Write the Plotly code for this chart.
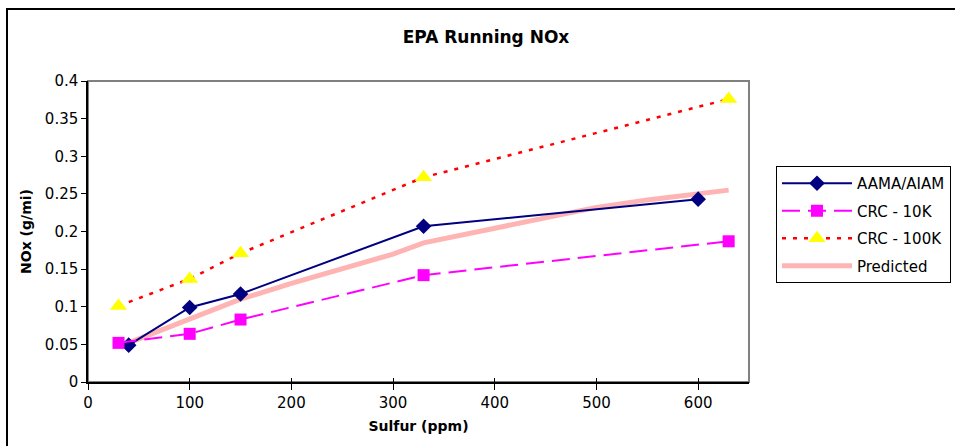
import plotly.graph_objects as go

# ---- data ----
aama_x = [40, 100, 150, 330, 600]
aama_y = [0.049, 0.099, 0.117, 0.207, 0.243]

crc10_x = [30, 100, 150, 330, 630]
crc10_y = [0.052, 0.064, 0.083, 0.142, 0.187]

crc100_x = [30, 100, 150, 330, 630]
crc100_y = [0.101, 0.137, 0.171, 0.272, 0.376]

pred_x = [40, 100, 150, 200, 250, 300, 330, 400, 450, 500, 550, 600, 630]
pred_y = [0.052, 0.084, 0.110, 0.131, 0.150, 0.170, 0.185, 0.205, 0.218, 0.232, 0.242, 0.250, 0.255]

W, H = 955, 446
L, R, T, B = 88, 749, 81, 382

FONT = "DejaVu Sans"

fig = go.Figure()

fig.add_trace(go.Scatter(
    x=pred_x, y=pred_y, name="Predicted", mode="lines", legendgroup="d",
    line=dict(color="#FFB4B4", width=5), legendrank=4))
fig.add_trace(go.Scatter(
    x=aama_x, y=aama_y, name="AAMA/AIAM", mode="lines+markers", legendgroup="a",
    line=dict(color="#000080", width=2),
    marker=dict(symbol="diamond", size=12, color="#000080"), legendrank=1))
fig.add_trace(go.Scatter(
    x=crc10_x, y=crc10_y, name="CRC - 10K", mode="lines+markers", legendgroup="b",
    line=dict(color="#FF00FF", width=2, dash="18px,8px"),
    marker=dict(symbol="square", size=12, color="#FF00FF"), legendrank=2))
fig.add_trace(go.Scatter(
    x=crc100_x, y=crc100_y, name="CRC - 100K", mode="lines+markers", legendgroup="c",
    line=dict(color="#FF0000", width=2.5, dash="4px,7px"),
    marker=dict(symbol="triangle-up", size=15, color="#FFFF00"), legendrank=3))

# invisible helper trace on overlay axis so inside ticks render
fig.add_trace(go.Scatter(x=[0], y=[0], xaxis="x2", mode="markers",
                         marker=dict(opacity=0), showlegend=False, hoverinfo="skip"))

pw = R - L
ph = B - T

fig.update_layout(
    width=W, height=H,
    margin=dict(l=L, r=W - R, t=T, b=H - B, autoexpand=False),
    paper_bgcolor="white", plot_bgcolor="white",
    font=dict(family=FONT, size=15, color="black"),
    title=dict(text="<b>EPA Running NOx</b>", x=486 / W, xref="container", xanchor="center",
               y=1 - 37 / H, yref="container", yanchor="middle",
               font=dict(family=FONT, size=17, color="black")),
    xaxis=dict(range=[0, 650], dtick=100, tick0=0, showgrid=False, zeroline=False,
               showline=True, linecolor="black", linewidth=1.5,
               ticks="outside", ticklen=6, tickwidth=1, tickcolor="black",
               tickfont=dict(size=15),
               title=dict(text="<b>Sulfur (ppm)</b>", font=dict(size=14), standoff=10)),
    xaxis2=dict(range=[0, 650], dtick=100, tick0=0, overlaying="x", side="bottom",
                showgrid=False, zeroline=False, showline=False, showticklabels=False,
                ticks="inside", ticklen=4, tickwidth=1, tickcolor="black"),
    yaxis=dict(range=[0, 0.4], dtick=0.05, tick0=0, showgrid=False, zeroline=False,
               showline=True, linecolor="black", linewidth=1.5,
               ticks="outside", ticklen=5, tickwidth=1, tickcolor="black",
               tickfont=dict(size=15),
               title=dict(text="<b>NOx (g/mi)</b>", font=dict(size=14), standoff=10)),
    legend=dict(x=(776 - L) / pw, y=(B - 166) / ph, xanchor="left", yanchor="top",
                bordercolor="black", borderwidth=1, bgcolor="white",
                font=dict(family=FONT, size=15), itemwidth=70, entrywidth=130,
                traceorder="grouped", tracegroupgap=5),
    showlegend=True,
    shapes=[
        dict(type="rect", xref="paper", yref="paper", x0=0, x1=1, y0=0, y1=1,
             line=dict(color="#808080", width=2), layer="below"),
        dict(type="rect", xref="paper", yref="paper",
             x0=(7 - L) / pw, x1=(970 - L) / pw,
             y0=(B - 470) / ph, y1=(B - 9) / ph,
             line=dict(color="black", width=2), layer="below"),
    ],
)

fig.write_html("out.html")
